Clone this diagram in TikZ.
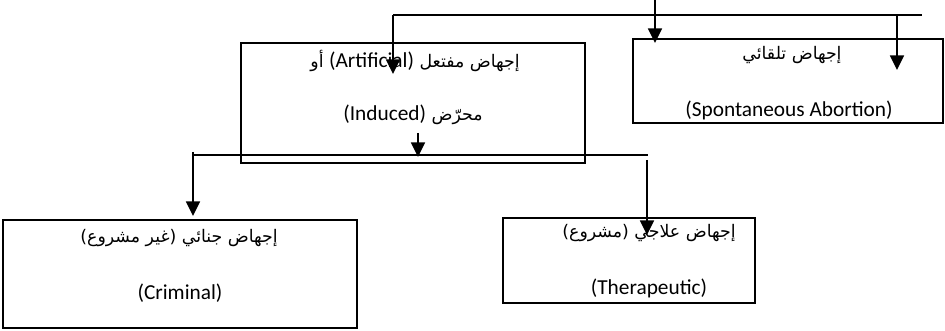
\documentclass[tikz,border=0pt]{standalone}
\usepackage{fontspec}
\setmainfont{Carlito}
\newfontfamily\arabicfont[Script=Arabic]{DejaVu Sans}
\TeXXeTstate=1
\usetikzlibrary{arrows.meta}
\newcommand{\latinpart}[1]{{\fontsize{16}{19}\selectfont\rmfamily #1}}
\tikzset{
  box/.style={draw, line width=1.1pt, inner sep=0pt},
  lbl/.style={inner sep=0pt, font=\fontsize{16}{19}\selectfont},
  arlbl/.style={inner sep=0pt, font=\fontsize{13}{16}\arabicfont},
  wire/.style={line width=1.3pt},
  arr/.style={line width=1.3pt, -{Triangle[width=10.5pt,length=11pt]}}
}
\begin{document}
\begin{tikzpicture}[x=0.75pt,y=-0.75pt]
\useasboundingbox (0,0) rectangle (945,331);

% category boxes
\node[box, minimum width=258pt, minimum height=90pt] (art) at (413,103) {};
\node[box, minimum width=232.5pt, minimum height=63pt] (spon) at (788,81) {};
\node[box, minimum width=265.5pt, minimum height=81pt] (crim) at (180,274) {};
\node[box, minimum width=189pt, minimum height=63.75pt] (ther) at (629,260.5) {};

% labels
\node[arlbl] (artA) at (415,61) {\beginR إجهاض مفتعل \beginL\latinpart{(Artificial)}\endL{} أو\endR};
\node[arlbl] (artB) at (413,115) {\beginR محرّض \beginL\latinpart{(Induced)}\endL\endR};
\node[arlbl] (sponA) at (792,55) {\beginR إجهاض تلقائي\endR};
\node[lbl] (sponB) at (789,110) {(Spontaneous Abortion)};
\node[arlbl] (crimA) at (179,238) {\beginR إجهاض جنائي (غير مشروع)\endR};
\node[lbl] (crimB) at (180,293) {(Criminal)};
\node[arlbl] (therA) at (649,233) {\beginR إجهاض علاجي (مشروع)\endR};
\node[lbl] (therB) at (649,288) {(Therapeutic)};

% upper connectors
\coordinate (top) at (655,0);
\coordinate (hL) at (393,15);
\coordinate (hR) at (922,15);
\coordinate (hS) at (897,15);
\coordinate (artIn) at (393,74);
\coordinate (sponInL) at (655,43);
\coordinate (sponInR) at (897,70);
\draw[wire] (hL) -- (hR);
\draw[arr] (top) -- (sponInL);
\draw[arr] (hL) -- (artIn);
\draw[arr] (hS) -- (sponInR);

% lower connectors
\coordinate (indTail) at (418,133);
\coordinate (indTip) at (418,157);
\coordinate (bL) at (193,155);
\coordinate (bR) at (648,155);
\coordinate (crimTail) at (193,152);
\coordinate (crimIn) at (193,216);
\coordinate (therTail) at (647,160);
\coordinate (therIn) at (647,235);
\draw[arr] (indTail) -- (indTip);
\draw[wire] (bL) -- (bR);
\draw[arr] (crimTail) -- (crimIn);
\draw[arr] (therTail) -- (therIn);
\end{tikzpicture}
\end{document}
